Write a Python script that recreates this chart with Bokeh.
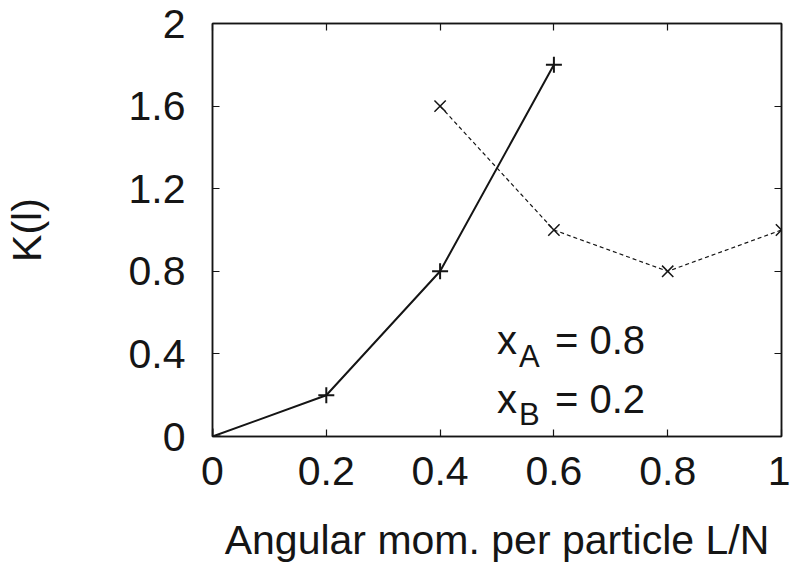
from bokeh.plotting import figure
from bokeh.models import LinearAxis, Label, FixedTicker, Range1d
from bokeh.embed import file_html
from bokeh.resources import INLINE

# data
xa_L = [0.0, 0.2, 0.4, 0.6]
xa_K = [0.0, 0.2, 0.8, 1.8]
xb_L = [0.4, 0.6, 0.8, 1.0]
xb_K = [1.6, 1.0, 0.8, 1.0]
x_ticks = [0, 0.2, 0.4, 0.6, 0.8, 1.0]
y_ticks = [0, 0.4, 0.8, 1.2, 1.6, 2.0]
x_tick_labels = {0: "0", 0.2: "0.2", 0.4: "0.4", 0.6: "0.6", 0.8: "0.8", 1.0: "1"}
y_tick_labels = {0: "0", 0.4: "0.4", 0.8: "0.8", 1.2: "1.2", 1.6: "1.6", 2.0: "2"}

FONT = "Liberation Sans"
INK = "#151515"
FS = "41px"

p = figure(width=790, height=569, output_backend="svg", toolbar_location=None,
           x_range=Range1d(0, 1), y_range=Range1d(0, 2),
           min_border_left=209, min_border_right=9, min_border_top=23, min_border_bottom=133,
           x_axis_label="Angular mom. per particle L/N", y_axis_label="K(l)")
p.grid.visible = False
p.outline_line_color = INK
p.outline_line_width = 1.5
p.background_fill_color = "white"
p.border_fill_color = "white"

def style(ax, ticks, labels, show):
    ax.ticker = FixedTicker(ticks=ticks)
    ax.major_label_overrides = labels
    ax.major_tick_in = 7
    ax.major_tick_out = 0
    ax.minor_tick_in = 0
    ax.minor_tick_out = 0
    ax.axis_line_color = INK
    ax.axis_line_width = 1.5
    ax.major_tick_line_color = INK
    ax.major_tick_line_width = 1.2
    ax.major_label_text_font = FONT
    ax.major_label_text_font_size = FS
    ax.major_label_text_color = INK if show else None
    ax.axis_label_text_font = FONT
    ax.axis_label_text_font_size = FS
    ax.axis_label_text_font_style = "normal"
    ax.axis_label_text_color = INK

style(p.xaxis[0], x_ticks, x_tick_labels, True)
style(p.yaxis[0], y_ticks, y_tick_labels, True)
p.xaxis[0].major_label_standoff = 20
p.xaxis[0].axis_label_standoff = 29
p.yaxis[0].major_label_standoff = 27
p.yaxis[0].axis_label_standoff = 76

top = LinearAxis()
style(top, x_ticks, {}, False)
top.major_label_text_font_size = "0px"
top.major_label_standoff = 0
right = LinearAxis()
style(right, y_ticks, {}, False)
right.major_label_text_font_size = "0px"
right.major_label_standoff = 0
p.add_layout(top, "above")
p.add_layout(right, "right")

# series
p.line(xa_L, xa_K, line_color=INK, line_width=2)
p.scatter(xa_L, xa_K, marker="cross", size=16, line_color=INK, line_width=2)
p.line(xb_L, xb_K, line_color=INK, line_width=1.2, line_dash="4 3")
p.scatter(xb_L, xb_K, marker="x", size=16, line_color=INK, line_width=1.5)

# annotation
for yv, sub, txt in [(0.465, "A", "= 0.8"), (0.184, "B", "= 0.2")]:
    p.add_layout(Label(x=0.5, y=yv, text="x", text_font=FONT, text_font_size="40px",
                       text_color=INK, text_baseline="alphabetic"))
    p.add_layout(Label(x=0.5, y=yv, x_offset=22, y_offset=-16, text=sub, text_font=FONT,
                       text_font_size="31px", text_color=INK, text_baseline="alphabetic"))
    p.add_layout(Label(x=0.5, y=yv, x_offset=58, text=txt, text_font=FONT,
                       text_font_size="40px", text_color=INK, text_baseline="alphabetic"))

open("out.html", "w").write(file_html(p, INLINE))
